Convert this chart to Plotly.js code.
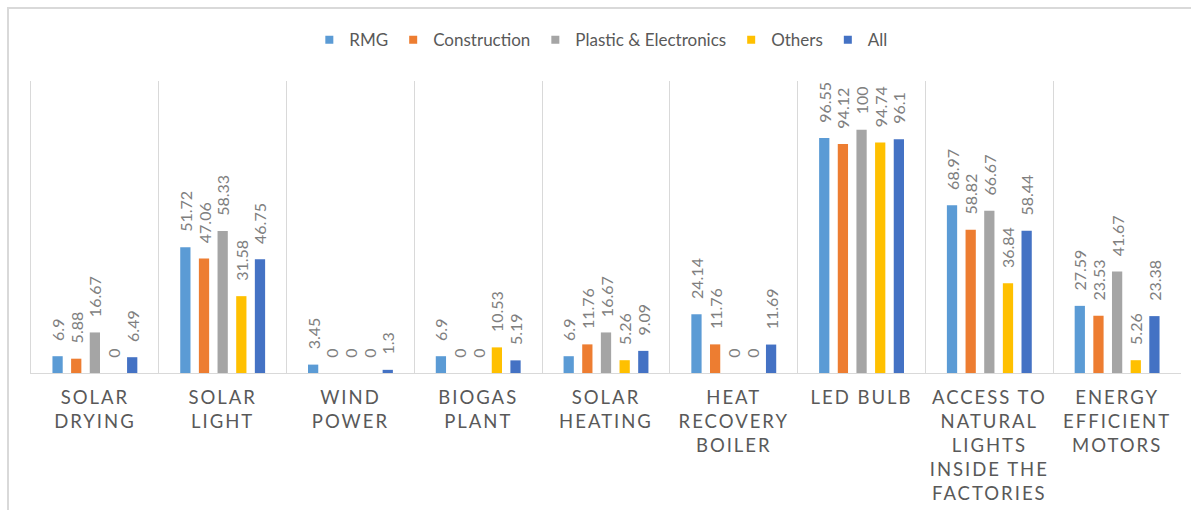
<!DOCTYPE html>
<html>
<head>
<meta charset="utf-8">
<script src="https://cdn.plot.ly/plotly-3.0.1.min.js"></script>
<style>
  html, body { margin: 0; padding: 0; background: #ffffff; width: 1191px; height: 510px; overflow: hidden; }
  #frame { position: absolute; left: 7px; top: 7px; width: 1220px; height: 540px;
           border: 2px solid #d9d9d9; box-sizing: border-box; }
  #chart { position: absolute; left: 0; top: 0; width: 1191px; height: 510px; }
  .xtick text { letter-spacing: 2px; }
</style>
</head>
<body>
<div id="frame"></div>
<div id="chart"></div>
<script>
// Energy-saving technologies adopted, by sector (%)
const categories = [
  "SOLAR<br>DRYING",
  "SOLAR<br>LIGHT",
  "WIND<br>POWER",
  "BIOGAS<br>PLANT",
  "SOLAR<br>HEATING",
  "HEAT<br>RECOVERY<br>BOILER",
  "LED BULB",
  "ACCESS TO<br>NATURAL<br>LIGHTS<br>INSIDE THE<br>FACTORIES",
  "ENERGY<br>EFFICIENT<br>MOTORS"
];

const seriesNames = ["RMG", "Construction", "Plastic & Electronics", "Others", "All"];

const rmg          = [6.9, 51.72, 3.45, 6.9, 6.9, 24.14, 96.55, 68.97, 27.59];
const construction = [5.88, 47.06, 0, 0, 11.76, 11.76, 94.12, 58.82, 23.53];
const plasticElec  = [16.67, 58.33, 0, 0, 16.67, 0, 100, 66.67, 41.67];
const others       = [0, 31.58, 0, 10.53, 5.26, 0, 94.74, 36.84, 5.26];
const allSectors   = [6.49, 46.75, 1.3, 5.19, 9.09, 11.69, 96.1, 58.44, 23.38];

const seriesValues = [rmg, construction, plasticElec, others, allSectors];
const seriesColors = ["#5b9bd5", "#ed7d31", "#a5a5a5", "#ffc000", "#4472c4"];

const PAD = "\u00a0\u00a0\u00a0";   // spacing between bar end and its value label
const FONT = "Lato, 'Open Sans', sans-serif";

const traces = [];
seriesValues.forEach((vals, k) => {
  traces.push({
    type: "bar",
    name: seriesNames[k],
    x: categories,
    y: vals,
    marker: { color: seriesColors[k] },
    text: vals.map(v => PAD + String(v)),
    textposition: "outside",
    textangle: -90,
    constraintext: "none",
    cliponaxis: false,
    textfont: { family: FONT, size: 16, color: "#7f7f7f" },
    showlegend: false,
    hoverinfo: "x+y"
  });
});

// legend entries with small square keys
seriesNames.forEach((name, k) => {
  traces.push({
    type: "scatter",
    mode: "markers",
    name: name,
    x: [null],
    y: [null],
    marker: { symbol: "square", size: 8, color: seriesColors[k] },
    showlegend: true,
    hoverinfo: "skip"
  });
});

const layout = {
  width: 1191,
  height: 510,
  margin: { l: 31, r: 10, t: 81, b: 137 },
  paper_bgcolor: "rgba(0,0,0,0)",
  plot_bgcolor: "rgba(0,0,0,0)",
  barmode: "group",
  bargap: 0.27,
  bargroupgap: 0.45,
  font: { family: FONT, color: "#595959" },
  showlegend: true,
  legend: {
    orientation: "h",
    x: 0.4955, xanchor: "center",
    y: 1.14, yanchor: "middle",
    font: { family: FONT, size: 17, color: "#595959" },
    itemwidth: 30,
    traceorder: "normal"
  },
  xaxis: {
    type: "category",
    tickson: "boundaries",
    showgrid: true,
    gridcolor: "#d9d9d9",
    gridwidth: 1,
    showline: true,
    linecolor: "#d9d9d9",
    linewidth: 1,
    ticks: "",
    tickangle: 0,
    ticklabelstandoff: 8,
    tickfont: { family: FONT, size: 18.5, color: "#595959" },
    fixedrange: true
  },
  yaxis: {
    range: [0, 120],
    showgrid: false,
    zeroline: false,
    showline: true,
    linecolor: "#d9d9d9",
    linewidth: 1,
    showticklabels: false,
    ticks: "",
    fixedrange: true
  }
};

Plotly.newPlot("chart", traces, layout, { displayModeBar: false, staticPlot: true });
</script>
</body>
</html>
